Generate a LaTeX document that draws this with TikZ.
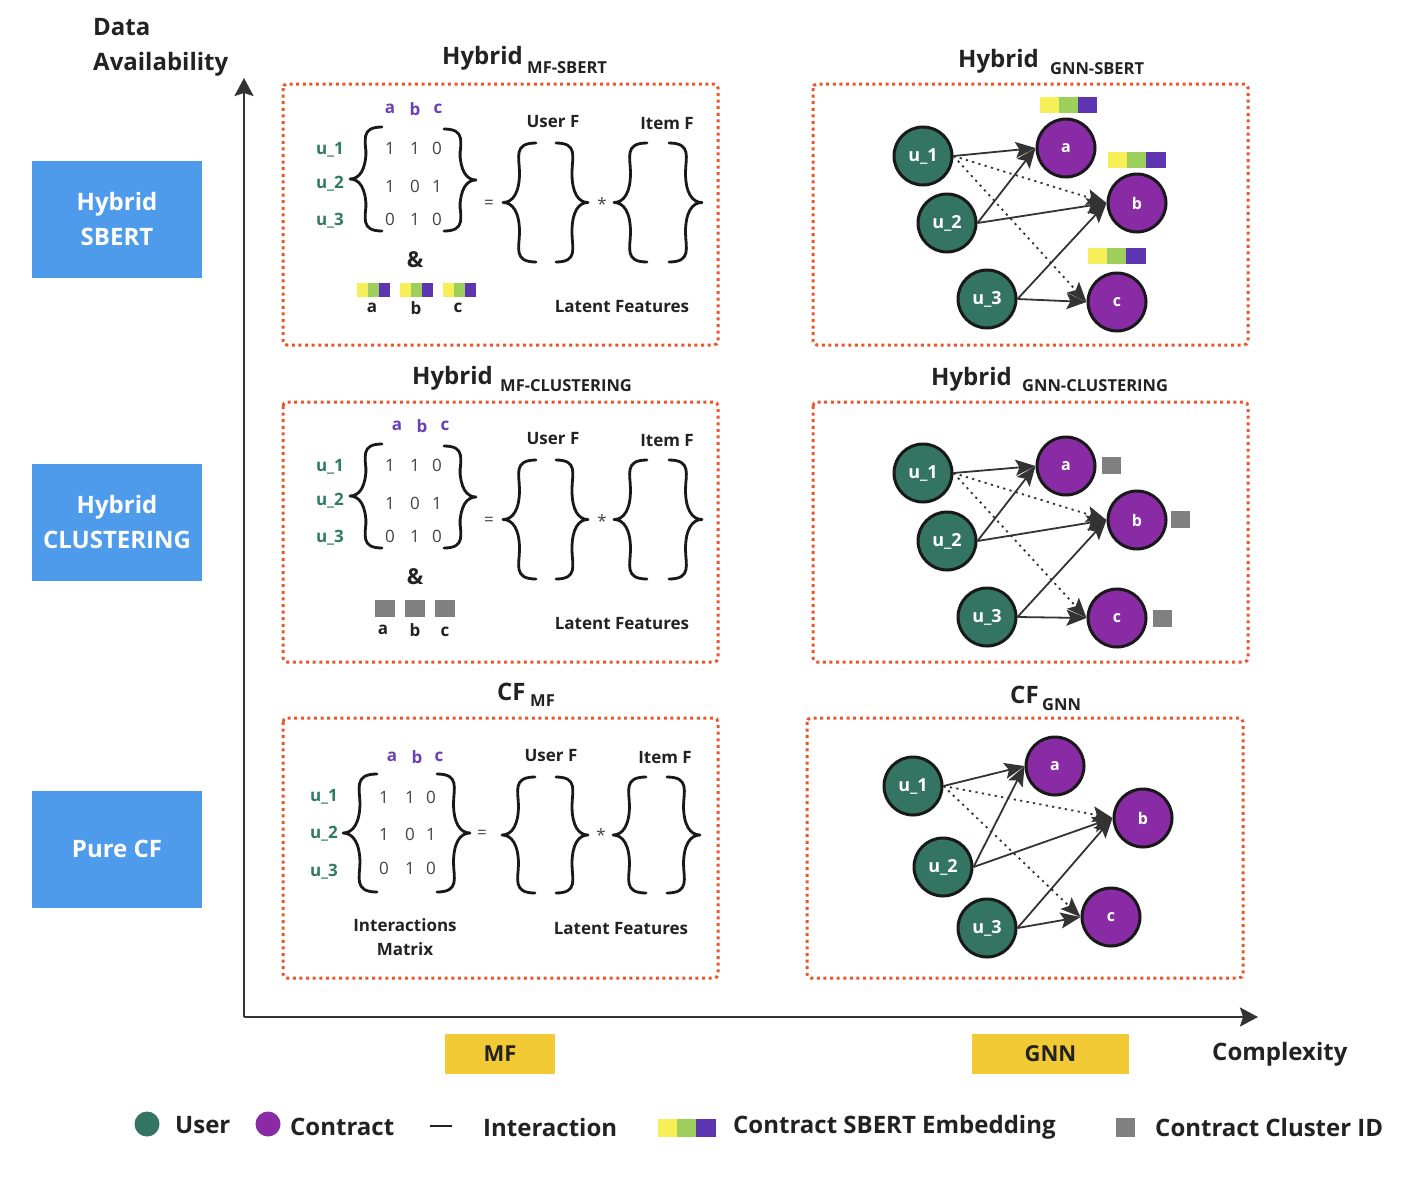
\documentclass[tikz,border=0pt]{standalone}
\usepackage{fontspec}
\setmainfont{Open Sans}
\usetikzlibrary{arrows.meta}
\definecolor{orng}{HTML}{E9562B}
\definecolor{ugreen}{HTML}{337562}
\definecolor{ipurple}{HTML}{8A2BA6}
\definecolor{lblpurple}{HTML}{6C3EB8}
\definecolor{lblgreen}{HTML}{2F7A62}
\definecolor{barY}{HTML}{F7EF57}
\definecolor{barG}{HTML}{9CCF5B}
\definecolor{barP}{HTML}{5D35B0}
\definecolor{sqgray}{HTML}{808080}
\definecolor{boxblue}{HTML}{4E9BEB}
\definecolor{boxyellow}{HTML}{F2CA36}
\definecolor{ink}{HTML}{222222}
\definecolor{edgec}{HTML}{333333}
\newcommand{\fs}[2]{\fontsize{#1}{#2}\selectfont}
% brace: tip x, top y, bottom y, width (negative = right brace)
\newcommand{\mybrace}[4]{%
  \draw[brace] ({#1+#4},#2) .. controls ({#1+0.3*#4},#2) and ({#1+0.5*#4},{#2+0.45*abs(#4)}) .. ({#1+0.5*#4},{#2+0.9*abs(#4)})
   -- ({#1+0.5*#4},{(#2+#3)/2-0.9*abs(#4)}) .. controls ({#1+0.5*#4},{(#2+#3)/2-0.3*abs(#4)}) and ({#1+0.3*#4},{(#2+#3)/2}) .. (#1,{(#2+#3)/2})
   .. controls ({#1+0.3*#4},{(#2+#3)/2}) and ({#1+0.5*#4},{(#2+#3)/2+0.3*abs(#4)}) .. ({#1+0.5*#4},{(#2+#3)/2+0.9*abs(#4)})
   -- ({#1+0.5*#4},{#3-0.9*abs(#4)}) .. controls ({#1+0.5*#4},{#3-0.45*abs(#4)}) and ({#1+0.3*#4},#3) .. ({#1+#4},#3);}
% embedding bar: left x, top y, width, height
\newcommand{\embbar}[4]{%
  \fill[barY] (#1,#2) rectangle ({#1+0.33*#3},{#2+#4});
  \fill[barG] ({#1+0.33*#3},#2) rectangle ({#1+0.66*#3},{#2+#4});
  \fill[barP] ({#1+0.66*#3},#2) rectangle ({#1+#3},{#2+#4});}
\tikzset{
 panel/.style={draw=orng, line width=3pt, dash pattern=on 3pt off 3.6pt, rounded corners=4pt},
 ttl/.style={anchor=base west, inner sep=0, font=\fs{24}{28}\bfseries, text=ink},
 subt/.style={anchor=base west, inner sep=0, font=\fs{16.5}{18}\bfseries, text=ink},
 ulbl/.style={font=\fs{17}{20}\bfseries, text=lblgreen, inner sep=0},
 ilbl/.style={font=\fs{17}{20}\bfseries, text=lblpurple, inner sep=0},
 num/.style={font=\fs{17}{20}, text=ink!85, inner sep=0},
 mlbl/.style={font=\fs{17}{24}\bfseries, text=ink, inner sep=0, align=center},
 amp/.style={font=\fs{22}{24}\bfseries, text=ink, inner sep=0},
 brace/.style={draw=black!90, line width=2.8pt, line cap=round, line join=round},
 user/.style={circle, fill=ugreen, draw=black!90, line width=3pt, minimum size=58pt, inner sep=0, text=white, font=\fs{18}{20}\bfseries},
 item/.style={user, fill=ipurple, font=\fs{16}{18}\bfseries},
 edge/.style={draw=edgec, line width=1.8pt, -{Stealth[length=20pt,width=16pt,inset=4pt]}},
 dedge/.style={edge, dash pattern=on 2.2pt off 4.3pt},
 catbox/.style={fill=boxblue, text=white, minimum width=170pt, minimum height=117pt, align=center, font=\fs{24}{35}\bfseries, inner sep=0},
 algbox/.style={fill=boxyellow, text=ink, minimum height=40pt, font=\fs{22}{24}\bfseries, inner sep=0},
 axis/.style={draw=edgec, line width=2pt, -{Stealth[length=18pt,width=19pt,inset=3pt]}},
 leg/.style={anchor=west, inner sep=0, font=\fs{24}{28}\bfseries, text=ink},
 sq/.style={fill=sqgray},
}
\begin{document}
\begin{tikzpicture}[x=1pt,y=-1pt]
\useasboundingbox (0,0) rectangle (1416,1189);
\fill[white] (0,0) rectangle (1416,1189);

% ---------- axes ----------
\node[anchor=north west, inner sep=0, align=left, font=\fs{24}{35}\bfseries, text=ink] (yl) at (93,18) {Data\\Availability};
\coordinate (origin) at (244,1017);
\coordinate (ytop) at (244,78);
\coordinate (xend) at (1258,1017);
\draw[axis] (origin) -- (ytop);
\draw[axis] (origin) -- (xend);
\node[algbox, minimum width=110pt] (mf) at (500,1054) {MF};
\node[algbox, minimum width=157pt] (gnn) at (1050.5,1054) {GNN};
\node[leg] (cx) at (1212,1054) {Complexity};

% ---------- category boxes ----------
\node[catbox] (c1) at (117,219) {Hybrid\\SBERT};
\node[catbox] (c2) at (117,522) {Hybrid\\CLUSTERING};
\node[catbox] (c3) at (117,849) {Pure CF};

% ---------- panels ----------
\draw[panel] (283,84) rectangle (718,345);
\draw[panel] (813,84) rectangle (1248,345);
\draw[panel] (283,402) rectangle (718,662);
\draw[panel] (813,402) rectangle (1248,662);
\draw[panel] (283,718) rectangle (718,978);
\draw[panel] (807,718) rectangle (1243,978);

% titles
\node[ttl] (t1) at (442,64) {Hybrid};
\node[subt] (t1s) at (527,73) {MF-SBERT};
\node[ttl] (t2) at (958,67) {Hybrid};
\node[subt] (t2s) at (1050,74) {GNN-SBERT};
\node[ttl] (t3) at (412,384) {Hybrid};
\node[subt] (t3s) at (500,391) {MF-CLUSTERING};
\node[ttl] (t4) at (931,385) {Hybrid};
\node[subt] (t4s) at (1022,391) {GNN-CLUSTERING};
\node[ttl] (t5) at (497,700) {CF};
\node[subt] (t5s) at (530,706) {MF};
\node[ttl] (t6) at (1010,703) {CF};
\node[subt] (t6s) at (1042,710) {GNN};

% ---------- MF panels (top and middle) ----------
\foreach \dy/\dx/\p in {0/0/A,317/7/B}{
  \begin{scope}[yshift=-\dy pt]
  \node[ilbl] (\p ha) at ({390+\dx},109) {a};
  \node[ilbl] (\p hb) at ({415+\dx},109) {b};
  \node[ilbl] (\p hc) at ({438+\dx},109) {c};
  \node[ulbl] (\p u1) at (330,150) {u\_1};
  \node[ulbl] (\p u2) at (330,184) {u\_2};
  \node[ulbl] (\p u3) at (330,221) {u\_3};
  \node[num] (\p n11) at (390,148) {1}; \node[num] (\p n12) at (415,148) {1}; \node[num] (\p n13) at (437,148) {0};
  \node[num] (\p n21) at (390,186) {1}; \node[num] (\p n22) at (415,186) {0}; \node[num] (\p n23) at (437,186) {1};
  \node[num] (\p n31) at (390,219) {0}; \node[num] (\p n32) at (415,219) {1}; \node[num] (\p n33) at (437,219) {0};
  \mybrace{350}{127}{231}{32}
  \mybrace{476}{129}{231}{-32}
  \node[num] (\p eq) at (489,204) {=};
  \mybrace{503}{143}{262}{33}
  \mybrace{588}{143}{262}{-32}
  \node[num] (\p st) at (602,204) {*};
  \mybrace{614}{143}{262}{33}
  \mybrace{702}{143}{262}{-33}
  \node[mlbl] (\p uf) at (553,122) {User F};
  \node[mlbl] (\p if) at (667,124) {Item F};
  \node[mlbl] (\p lf) at (622,307) {Latent Features};
  \node[amp] (\p amp) at (415,260) {\&};
  \end{scope}
}
% embedding bars (top)
\embbar{357}{283}{33}{14}
\embbar{400}{283}{33}{14}
\embbar{443}{283}{33}{14}
\node[mlbl] (Aba) at (372,308) {a};
\node[mlbl] (Abb) at (416,308) {b};
\node[mlbl] (Abc) at (458,308) {c};
% cluster squares (middle)
\fill[sq] (375,600) rectangle (395,617);
\fill[sq] (405,600) rectangle (425,617);
\fill[sq] (435,600) rectangle (455,617);
\node[mlbl] (Bba) at (383,630) {a};
\node[mlbl] (Bbb) at (415,630) {b};
\node[mlbl] (Bbc) at (445,632) {c};

% ---------- MF panel (bottom) ----------
\node[ilbl] (Cha) at (392,757) {a};
\node[ilbl] (Chb) at (417,757) {b};
\node[ilbl] (Chc) at (439,757) {c};
\node[ulbl] (Cu1) at (324,797) {u\_1};
\node[ulbl] (Cu2) at (324,834) {u\_2};
\node[ulbl] (Cu3) at (324,872) {u\_3};
\node[num] (Cn11) at (384,797) {1}; \node[num] (Cn12) at (410,797) {1}; \node[num] (Cn13) at (431,797) {0};
\node[num] (Cn21) at (384,834) {1}; \node[num] (Cn22) at (410,834) {0}; \node[num] (Cn23) at (431,834) {1};
\node[num] (Cn31) at (384,868) {0}; \node[num] (Cn32) at (410,868) {1}; \node[num] (Cn33) at (431,868) {0};
\mybrace{343}{774}{892}{34}
\mybrace{470}{774}{892}{-33}
\node[num] (Ceq) at (482,834) {=};
\mybrace{502}{777}{893}{33}
\mybrace{588}{777}{893}{-32}
\node[num] (Cst) at (601,835) {*};
\mybrace{613}{777}{893}{33}
\mybrace{700}{777}{893}{-33}
\node[mlbl] (Cuf) at (551,756) {User F};
\node[mlbl] (Cif) at (665,758) {Item F};
\node[mlbl] (Cim) at (405,937) {Interactions\\Matrix};
\node[mlbl] (Clf) at (621,929) {Latent Features};

% ---------- GNN graphs ----------
\foreach \p/\ux/\uy/\vx/\vy/\wx/\wy/\ax/\ay/\bx/\by/\cx/\cy in
 {D/923/156/947/223/987/299/1066/148/1137/203/1117/302,
  E/923/473/947/541/987/617/1066/466/1137/520/1117/618,
  F/913/786/943/867/987/928/1055/766/1143/818/1111/917}{
  \node[user] (\p u1) at (\ux,\uy) {u\_1};
  \node[user] (\p u2) at (\vx,\vy) {u\_2};
  \node[user] (\p u3) at (\wx,\wy) {u\_3};
  \node[item] (\p a) at (\ax,\ay) {a};
  \node[item] (\p b) at (\bx,\by) {b};
  \node[item] (\p c) at (\cx,\cy) {c};
  \draw[edge] (\p u1.east) -- (\p a.west);
  \draw[dedge] (\p u1.east) -- (\p b.west);
  \draw[dedge] (\p u1.east) -- (\p c.west);
  \draw[edge] (\p u2.east) -- (\p a.west);
  \draw[edge] (\p u2.east) -- (\p b.west);
  \draw[edge] (\p u3.east) -- (\p b.west);
  \draw[edge] (\p u3.east) -- (\p c.west);
}
\embbar{1040}{97}{57}{16}
\embbar{1108}{152}{58}{16}
\embbar{1088}{248}{58}{16}
\fill[sq] (1102,457) rectangle (1121,474);
\fill[sq] (1171,511) rectangle (1190,528);
\fill[sq] (1153,610) rectangle (1172,627);

% ---------- legend ----------
\fill[ugreen] (147,1124) circle (12.5);
\node[leg] (lu) at (175,1125) {User};
\fill[ipurple] (268,1124) circle (12.5);
\node[leg] (lc) at (290,1127) {Contract};
\draw[ink, line width=1.5pt] (430,1126) -- (452,1126);
\node[leg] (li) at (483,1127) {Interaction};
\embbar{658}{1119}{58}{18}
\node[leg] (ls) at (733,1127) {Contract SBERT Embedding};
\fill[sq] (1116,1118) rectangle (1135,1137);
\node[leg] (lk) at (1155,1127) {Contract Cluster ID};
\end{tikzpicture}
\end{document}
